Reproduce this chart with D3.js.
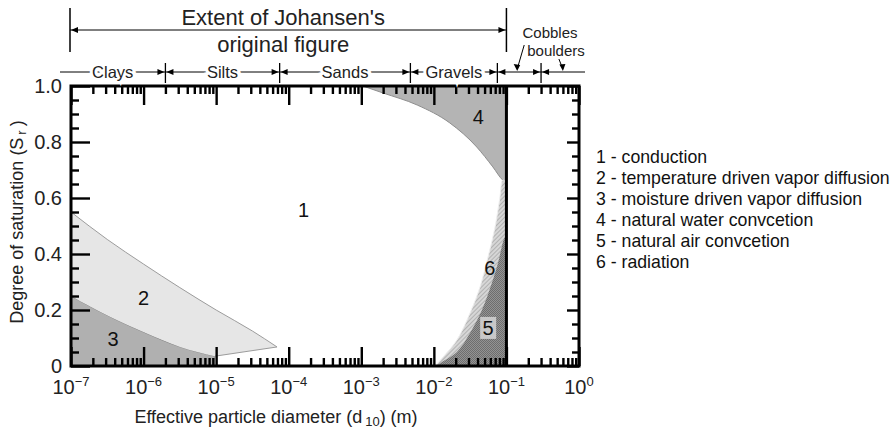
<!DOCTYPE html>
<html>
<head>
<meta charset="utf-8">
<script src="https://cdn.jsdelivr.net/npm/d3@7"></script>
<style>
  body { margin: 0; background: #fff; }
  svg { display: block; font-family: "Liberation Sans", Arial, sans-serif; }
</style>
</head>
<body>
<svg id="chart" width="895" height="429"></svg>
<script>
// Regime boundaries: [effective particle diameter d10 (m), degree of saturation Sr]
const region2Upper = [[1e-7, 0.55], [3.16e-7, 0.452], [1e-6, 0.364], [3.16e-6, 0.28], [1e-5, 0.2], [3.16e-5, 0.125], [6.9e-5, 0.068]];
const region2Tail = [[6.9e-5, 0.068], [9.6e-6, 0.035]];
const region3Upper = [[1e-7, 0.25], [3.5e-7, 0.175], [1e-6, 0.121], [3.2e-6, 0.068], [9.6e-6, 0.035]];
const region4Lower = [[1.05e-3, 1.0], [2.0e-3, 0.975], [5.9e-3, 0.932], [1.66e-2, 0.868], [3.9e-2, 0.782], [6.5e-2, 0.711], [8.9e-2, 0.664], [0.1, 0.655]];
const region6Left = [[1.04e-2, 0], [1.34e-2, 0.032], [2.08e-2, 0.093], [3.15e-2, 0.189], [4.33e-2, 0.282], [5.57e-2, 0.389], [6.97e-2, 0.496], [8.15e-2, 0.604], [8.9e-2, 0.664], [0.1, 0.655]];
const region5Left = [[1.1e-2, 0], [1.22e-2, 0.01], [2.08e-2, 0.05], [3.15e-2, 0.118], [4.6e-2, 0.2], [6.3e-2, 0.296], [7.65e-2, 0.368], [9.55e-2, 0.46], [0.1, 0.46]];

// Region number labels: [d10, Sr, text]
const regionLabels = [[1.6e-4, 0.557, "1"], [1e-6, 0.243, "2"], [3.8e-7, 0.096, "3"], [4.1e-2, 0.89, "4"], [5.6e-2, 0.136, "5"], [5.9e-2, 0.35, "6"]];

// Axes
const decadeExponents = [-7, -6, -5, -4, -3, -2, -1, 0];
const yMajorTicks = [0, 0.2, 0.4, 0.6, 0.8, 1.0];
const yTickLabels = ["0", "0.2", "0.4", "0.6", "0.8", "1.0"];

// Soil classification bands (boundaries in m)
const soilBoundaries = [2e-6, 7.5e-5, 4.75e-3, 7.5e-2, 3e-1];
const soilNames = ["Clays", "Silts", "Sands", "Gravels"];
const johansenExtent = [1e-7, 1e-1];

const legendLabels = [
  "1 - conduction",
  "2 - temperature driven vapor diffusion",
  "3 - moisture driven vapor diffusion",
  "4 - natural water convcetion",
  "5 - natural air convcetion",
  "6 - radiation"
];

const svg = d3.select("#chart");
const plot = { left: 71, right: 579, top: 86, bottom: 366 };

const x = d3.scaleLog().domain([1e-7, 1]).range([plot.left, plot.right]);
const y = d3.scaleLinear().domain([0, 1]).range([plot.bottom, plot.top]);

// patterns
const defs = svg.append("defs");
const hatch = defs.append("pattern").attr("id", "hatch6").attr("patternUnits", "userSpaceOnUse")
  .attr("width", 3).attr("height", 3).attr("patternTransform", "rotate(45)");
hatch.append("rect").attr("width", 3).attr("height", 3).attr("fill", "#d6d6d6");
hatch.append("line").attr("x1", 0).attr("y1", 0).attr("x2", 0).attr("y2", 3)
  .attr("stroke", "#9a9a9a").attr("stroke-width", 1.2);
const stip = defs.append("pattern").attr("id", "stip5").attr("patternUnits", "userSpaceOnUse")
  .attr("width", 2).attr("height", 2);
stip.append("rect").attr("width", 2).attr("height", 2).attr("fill", "#939393");
stip.append("rect").attr("width", 1).attr("height", 1).attr("fill", "#6e6e6e");
stip.append("rect").attr("x", 1).attr("y", 1).attr("width", 1).attr("height", 1).attr("fill", "#6e6e6e");
defs.append("clipPath").attr("id", "plotClip").append("rect")
  .attr("x", plot.left).attr("y", plot.top)
  .attr("width", plot.right - plot.left).attr("height", plot.bottom - plot.top);

const smooth = d3.line().x(d => x(d[0])).y(d => y(d[1])).curve(d3.curveMonotoneX);
const curve = d3.line().x(d => x(d[0])).y(d => y(d[1])).curve(d3.curveCatmullRom.alpha(0.5));
const straight = d3.line().x(d => x(d[0])).y(d => y(d[1]));
const pt = d => `L${x(d[0])},${y(d[1])}`;
const cont = p => p.replace(/^M/, "L");

const regions = svg.append("g").attr("clip-path", "url(#plotClip)");

// 3 - moisture driven vapor diffusion
regions.append("path")
  .attr("d", smooth(region3Upper) + pt([9.6e-6, 0]) + pt([1e-7, 0]) + "Z")
  .attr("fill", "#b0b0b0").attr("stroke", "#8a8a8a").attr("stroke-width", 1);

// 2 - temperature driven vapor diffusion
const r3rev = region3Upper.slice().reverse();
regions.append("path")
  .attr("d", smooth(region2Upper) + cont(straight(region2Tail)) + cont(smooth(r3rev)) + "Z")
  .attr("fill", "#e6e6e6").attr("stroke", "none");
regions.append("path").attr("d", smooth(region2Upper) + cont(straight(region2Tail)))
  .attr("fill", "none").attr("stroke", "#9c9c9c").attr("stroke-width", 1);

// 4 - natural water convection
regions.append("path")
  .attr("d", smooth(region4Lower) + pt([0.1, 1]) + "Z")
  .attr("fill", "#b4b4b4").attr("stroke", "#8e8e8e").attr("stroke-width", 1);

// 6 - radiation
regions.append("path")
  .attr("d", curve(region6Left) + pt([0.1, 0]) + "Z")
  .attr("fill", "url(#hatch6)").attr("stroke", "#efefef").attr("stroke-width", 1);

// 5 - natural air convection
regions.append("path")
  .attr("d", curve(region5Left) + pt([0.1, 0]) + "Z")
  .attr("fill", "url(#stip5)").attr("stroke", "none");

// Boundary of Johansen's original figure
svg.append("line").attr("x1", x(0.1)).attr("x2", x(0.1)).attr("y1", y(0)).attr("y2", y(1))
  .attr("stroke", "#000").attr("stroke-width", 3);

// Region labels
const labelG = svg.append("g");
regionLabels.forEach(([d, s, t]) => {
  if (t === "5") {
    labelG.append("rect").attr("x", x(d) - 8).attr("y", y(s) - 11).attr("width", 16).attr("height", 22)
      .attr("fill", "#c8c8c8");
  }
  labelG.append("text").attr("x", x(d)).attr("y", y(s)).attr("dy", "0.35em")
    .attr("text-anchor", "middle").attr("font-size", 20).attr("fill", "#111").text(t);
});

// Ticks (inward, on all four sides)
const majorX = decadeExponents.map(e => Math.pow(10, e));
const minorX = [];
decadeExponents.slice(0, -1).forEach(e => { for (let k = 2; k <= 9; k++) minorX.push(k * Math.pow(10, e)); });
const minorY = d3.range(0, 21).map(i => i * 0.05).filter(v => !yMajorTicks.some(m => Math.abs(m - v) < 1e-9));

function tickAxis(axisFn, scale, values, size, transform) {
  const g = svg.append("g").attr("transform", transform)
    .call(axisFn(scale).tickValues(values).tickSize(size).tickFormat(""));
  g.select(".domain").remove();
  g.selectAll(".tick line").attr("stroke", "#000").attr("stroke-width", 2.4);
  return g;
}
tickAxis(d3.axisBottom, x, majorX, -19, `translate(0,${plot.bottom})`);
tickAxis(d3.axisBottom, x, minorX, -8, `translate(0,${plot.bottom})`);
tickAxis(d3.axisTop, x, majorX, -19, `translate(0,${plot.top})`);
tickAxis(d3.axisTop, x, minorX, -8, `translate(0,${plot.top})`);
tickAxis(d3.axisLeft, y, yMajorTicks, -19, `translate(${plot.left},0)`);
tickAxis(d3.axisLeft, y, minorY, -8, `translate(${plot.left},0)`);
tickAxis(d3.axisRight, y, yMajorTicks, -12, `translate(${plot.right},0)`);
tickAxis(d3.axisRight, y, minorY, -7, `translate(${plot.right},0)`);

// Frame
svg.append("rect").attr("x", plot.left).attr("y", plot.top)
  .attr("width", plot.right - plot.left).attr("height", plot.bottom - plot.top)
  .attr("fill", "none").attr("stroke", "#000").attr("stroke-width", 3);

// X tick labels (powers of ten)
const xLab = svg.append("g").attr("fill", "#222");
decadeExponents.forEach(e => {
  const t = xLab.append("text").attr("x", x(Math.pow(10, e))).attr("y", 394)
    .attr("text-anchor", "middle").attr("font-size", 20);
  t.append("tspan").text("10");
  t.append("tspan").attr("font-size", 13).attr("dy", -8).text(e === 0 ? "0" : "\u2212" + Math.abs(e));
});

// Y tick labels
const yLab = svg.append("g").attr("fill", "#222");
yMajorTicks.forEach((v, i) => {
  yLab.append("text").attr("x", 62).attr("y", y(v)).attr("dy", "0.35em")
    .attr("text-anchor", "end").attr("font-size", 20).text(yTickLabels[i]);
});

// Axis titles
const xt = svg.append("text").attr("x", 276).attr("y", 423).attr("text-anchor", "middle")
  .attr("font-size", 18).attr("fill", "#222");
xt.append("tspan").text("Effective particle diameter (d");
xt.append("tspan").attr("font-size", 13).attr("dx", 3).attr("dy", 3).text("10");
xt.append("tspan").attr("dy", -3).text(") (m)");

const yt = svg.append("text").attr("transform", "translate(23,222) rotate(-90)")
  .attr("text-anchor", "middle").attr("font-size", 18).attr("fill", "#222");
yt.append("tspan").text("Degree of saturation (S");
yt.append("tspan").attr("font-size", 13).attr("dx", 3).attr("dy", 3).text("r");
yt.append("tspan").attr("dx", 4).attr("dy", -3).text(")");

// Extent of Johansen's original figure
const ann = svg.append("g").attr("stroke", "#000").attr("fill", "#000");
const ex0 = x(johansenExtent[0]) - 1, ex1 = x(johansenExtent[1]);
ann.append("line").attr("x1", ex0).attr("x2", ex0).attr("y1", 8).attr("y2", 52).attr("stroke-width", 1.5);
ann.append("line").attr("x1", ex1).attr("x2", ex1).attr("y1", 8).attr("y2", 52).attr("stroke-width", 1.5);
ann.append("line").attr("x1", ex0).attr("x2", ex1).attr("y1", 30).attr("y2", 30).attr("stroke-width", 1);

function arrowHead(g, tipX, tipY, dir) {
  // dir: +1 pointing right, -1 pointing left
  g.append("path").attr("d", `M${tipX},${tipY}L${tipX - dir * 7},${tipY - 3}L${tipX - dir * 7},${tipY + 3}Z`)
    .attr("stroke", "none");
}
arrowHead(ann, ex0 + 1, 30, -1);
arrowHead(ann, ex1 - 1, 30, 1);
svg.append("text").attr("x", (ex0 + ex1) / 2 - 5).attr("y", 25).attr("text-anchor", "middle")
  .attr("font-size", 22).attr("fill", "#222").text("Extent of Johansen's");
svg.append("text").attr("x", (ex0 + ex1) / 2 - 5).attr("y", 52).attr("text-anchor", "middle")
  .attr("font-size", 22).attr("fill", "#222").text("original figure");

// Soil classification bar
const bandY = 72;
const bandStart = x(1e-7) - 11, bandEnd = x(1) + 6;
const bx = soilBoundaries.map(b => x(b));
const band = svg.append("g").attr("stroke", "#000").attr("fill", "#000");
band.append("line").attr("x1", bandStart).attr("x2", bandEnd).attr("y1", bandY).attr("y2", bandY).attr("stroke-width", 1);
bx.forEach(p => {
  band.append("line").attr("x1", p).attr("x2", p).attr("y1", 63).attr("y2", 83).attr("stroke-width", 1.3);
  arrowHead(band, p - 1, bandY, 1);
  arrowHead(band, p + 1, bandY, -1);
});
const edges = [bandStart].concat(bx);
soilNames.forEach((n, i) => {
  svg.append("text").attr("x", (edges[i] + edges[i + 1]) / 2).attr("y", bandY).attr("dy", "0.35em")
    .attr("text-anchor", "middle").attr("font-size", 16.5).attr("fill", "#222")
    .attr("stroke", "#fff").attr("stroke-width", 6).attr("paint-order", "stroke").text(n);
});

// Cobbles / boulders callouts
const cobX = x(0.15), boulX = x(0.6);
const callout = svg.append("g").attr("stroke", "#000").attr("fill", "#000");
callout.append("line").attr("x1", cobX + 5).attr("y1", 45).attr("x2", cobX - 2).attr("y2", bandY - 3).attr("stroke-width", 1);
callout.append("path").attr("d", `M${cobX - 2},${bandY - 1}L${cobX - 5.5},${bandY - 8}L${cobX + 1},${bandY - 7}Z`).attr("stroke", "none");
callout.append("line").attr("x1", boulX - 4).attr("y1", 59).attr("x2", boulX).attr("y2", bandY - 3).attr("stroke-width", 1);
callout.append("path").attr("d", `M${boulX},${bandY - 1}L${boulX - 3.5},${bandY - 7.5}L${boulX + 2.5},${bandY - 8}Z`).attr("stroke", "none");
svg.append("text").attr("x", 550).attr("y", 38).attr("text-anchor", "middle").attr("font-size", 15).attr("fill", "#222").text("Cobbles");
svg.append("text").attr("x", 556).attr("y", 56).attr("text-anchor", "middle").attr("font-size", 15).attr("fill", "#222").text("boulders");

// Legend
const legend = svg.append("g").attr("transform", "translate(596,157)");
legendLabels.forEach((t, i) => {
  legend.append("text").attr("x", 0).attr("y", i * 21).attr("dy", "0.35em")
    .attr("font-size", 17.7).attr("fill", "#111").text(t);
});
</script>
</body>
</html>
